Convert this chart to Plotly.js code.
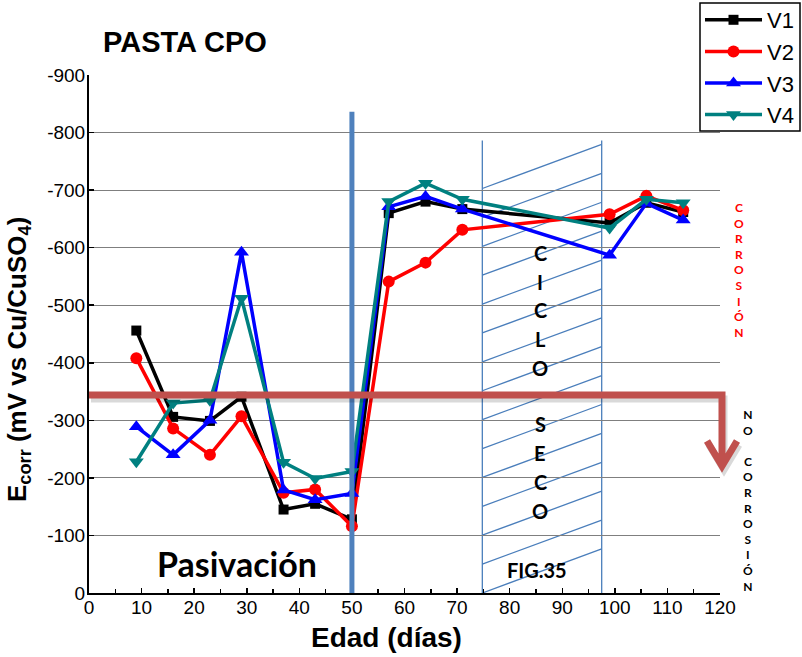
<!DOCTYPE html>
<html><head><meta charset="utf-8">
<script src="https://cdn.plot.ly/plotly-3.0.1.min.js"></script>
<style>body{margin:0;background:#fff}#chart{width:802px;height:657px}</style>
</head><body><div id="chart"></div>
<script>
// ---- data ----
const days = [9, 16, 23, 29, 37, 43, 50, 57, 64, 71, 99, 106, 113];
const v1 = [-456, -306, -299, -341, -145, -155, -128, -660, -680, -667, -643, -678, -662];
const v2 = [-408, -286, -240, -307, -174, -180, -116, -541, -574, -631, -658, -690, -665];
const v3 = [-289, -240, -300, -592, -179, -162, -173, -671, -689, -667, -587, -677, -648];
const v4 = [-228, -330, -335, -512, -227, -199, -211, -680, -712, -684, -634, -684, -678];
const seriesNames = ['V1', 'V2', 'V3', 'V4'];
const xTickVals = [0, 10, 20, 30, 40, 50, 60, 70, 80, 90, 100, 110, 120];
const yTickVals = [0, -100, -200, -300, -400, -500, -600, -700, -800, -900];
const yTickText = ['0', '-100', '-200', '-300', '-400', '-500', '-600', '-700', '-800', '-900'];
const cicloLetters = ['C', 'I', 'C', 'L', 'O', 'S', 'E', 'C', 'O'];

// ---- layout helpers (pixel -> paper) ----
const L = 89, R = 720, T = 75, B = 593;
const px = X => (X - L) / (R - L);
const py = Y => (B - Y) / (B - T);

const colors = ['#000000', '#FF0000', '#0000FF', '#008080'];
const symbols = ['square', 'circle', 'triangle-up', 'triangle-down'];
const sizes = [10, 12, 13, 13];
const vals = [v1, v2, v3, v4];
const traces = vals.map((v, i) => ({
  x: days, y: v, name: seriesNames[i], type: 'scatter', mode: 'lines+markers',
  line: {color: colors[i], width: 3.5},
  marker: {symbol: symbols[i], size: sizes[i], color: colors[i]}
}));

// hatched "ciclo seco" block
const hx0 = 74.8, hx1 = 97.5, hTop = -786, hStep = 50.2, hRise = 76.5;
const hatchColor = '#4A7EBB';
const shapes = [];
shapes.push({type: 'line', xref: 'x', yref: 'y', x0: hx0, x1: hx0, y0: 0, y1: hTop, line: {color: hatchColor, width: 1.3}, layer: 'below'});
shapes.push({type: 'line', xref: 'x', yref: 'y', x0: hx1, x1: hx1, y0: 0, y1: hTop, line: {color: hatchColor, width: 1.3}, layer: 'below'});
for (let k = 0; ; k++) {
  const yL = -k * hStep;
  const yR = yL - hRise;
  if (yR < hTop - 8) break;
  shapes.push({type: 'line', xref: 'x', yref: 'y', x0: hx0, y0: yL, x1: hx1, y1: yR, line: {color: hatchColor, width: 1.3}, layer: 'below'});
}
// vertical marker at day 50
shapes.push({type: 'line', xref: 'x', yref: 'y', x0: 50, x1: 50, y0: 0, y1: -836, line: {color: '#4F81BD', width: 5}, layer: 'above'});
// red threshold arrow
const arrowPath = (dx, dy) =>
  `M ${px(89 + dx)} ${py(395 + dy)} L ${px(722 + dx)} ${py(395 + dy)} L ${px(722 + dx)} ${py(462 + dy)} ` +
  `M ${px(707 + dx)} ${py(441 + dy)} L ${px(722 + dx)} ${py(466 + dy)} L ${px(737 + dx)} ${py(441 + dy)}`;
shapes.push({type: 'path', xref: 'paper', yref: 'paper', path: arrowPath(2, 4), line: {color: 'rgba(0,0,0,0.15)', width: 7}, layer: 'above'});
shapes.push({type: 'path', xref: 'paper', yref: 'paper', path: arrowPath(0, 0), line: {color: '#C0504D', width: 7}, layer: 'above'});
// legend frame
shapes.push({type: 'rect', xref: 'paper', yref: 'paper', x0: px(700), x1: px(800), y0: py(3), y1: py(131), line: {color: '#000', width: 1.5}, fillcolor: '#fff', layer: 'above'});

const boldArial = {family: 'Liberation Sans, Arial, sans-serif', color: '#000'};
const calib = 'Lato, Carlito, sans-serif';
const ann = [];
const A = (o) => ann.push(Object.assign({xref: 'paper', yref: 'paper', showarrow: false, xanchor: 'center', yanchor: 'middle'}, o));
A({text: '<b>PASTA CPO</b>', x: px(185), y: py(42), font: Object.assign({size: 29}, boldArial)});
A({text: '<b>Edad (días)</b>', x: px(386), y: py(637), font: Object.assign({size: 28}, boldArial)});
A({text: '<b>E<sub>corr</sub> (mV vs Cu/CuSO<sub>4</sub>)</b>', x: px(18), y: py(360), textangle: -90, font: Object.assign({size: 26}, boldArial)});
A({text: '<b>Pasivación</b>', x: px(237), y: py(563), font: {family: calib, size: 34, color: '#000'}});
A({text: '<b>FIG.35</b>', x: px(537), y: py(570), font: {family: calib, size: 20, color: '#000'}});
const cicloY = [253, 282, 310, 339, 368, 424, 453, 482, 511];
cicloLetters.forEach((c, i) => A({text: '<b>' + c + '</b>', x: px(540), y: py(cicloY[i]), font: {family: calib, size: 20, color: '#000'}}));
A({text: '<b>C<br>O<br>R<br>R<br>O<br>S<br>I<br>Ó<br>N</b>', x: px(739), y: py(270), font: {family: calib, size: 12, color: '#FF0000'}});
A({text: '<b>N<br>O<br>&nbsp;<br>C<br>O<br>R<br>R<br>O<br>S<br>I<br>Ó<br>N</b>', x: px(748), y: py(500), font: {family: calib, size: 12, color: '#000'}});

const layout = {
  width: 802, height: 657,
  margin: {l: L, r: 802 - R, t: T, b: 657 - B, pad: 0, autoexpand: false},
  paper_bgcolor: '#fff', plot_bgcolor: '#fff',
  font: {family: 'Liberation Sans, Arial, sans-serif', color: '#000'},
  xaxis: {range: [0, 120], tickvals: xTickVals, ticks: 'inside', ticklen: 5, tickwidth: 1.5, tickcolor: '#000',
    showgrid: false, zeroline: false, showline: true, linecolor: '#000', linewidth: 2, ticklabelstandoff: -4,
    tickfont: {size: 19}, minor: {dtick: 5, ticks: 'inside', ticklen: 4, tickcolor: '#000', showgrid: false}},
  yaxis: {range: [0, -900], tickvals: yTickVals, ticktext: yTickText, ticks: 'inside', ticklen: 5, tickwidth: 1.5, tickcolor: '#000',
    showgrid: true, gridcolor: '#7f7f7f', gridwidth: 1, zeroline: false, showline: true, linecolor: '#000', linewidth: 2, ticklabelstandoff: -2,
    tickfont: {size: 19}},
  showlegend: true,
  legend: {x: px(700), y: py(-1), xanchor: 'left', yanchor: 'top', borderwidth: 0,
    bgcolor: 'rgba(0,0,0,0)', font: {size: 22, family: 'Liberation Sans, Arial, sans-serif'}, itemwidth: 57, tracegroupgap: 0},
  shapes: shapes, annotations: ann
};
Plotly.newPlot('chart', traces, layout, {displayModeBar: false, staticPlot: true});
</script></body></html>
